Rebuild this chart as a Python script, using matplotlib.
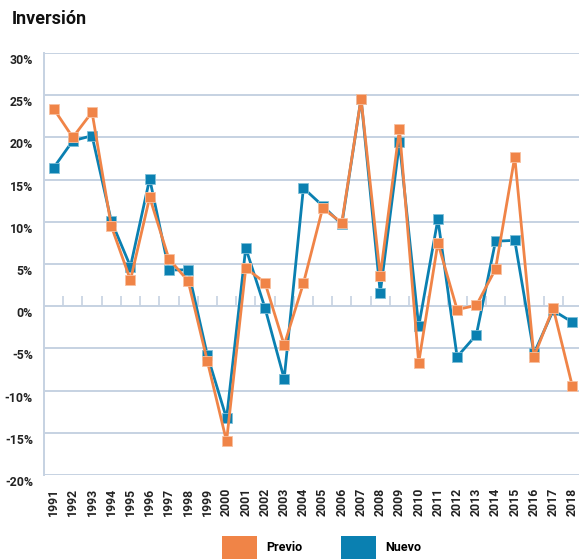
import matplotlib
matplotlib.use("Agg")
import matplotlib.pyplot as plt
from matplotlib.patches import Patch
from matplotlib.transforms import ScaledTranslation

plt.rcParams['font.family'] = ['Roboto', 'DejaVu Sans']

years = list(range(1991, 2019))
previo = [23.4, 20.0, 23.0, 9.5, 3.1, 12.9, 5.6, 3.0, -6.5, -16.0,
          4.5, 2.8, -4.6, 2.7, 11.6, 9.9, 24.6, 3.6, 21.0, -6.7,
          7.5, -0.4, 0.1, 4.4, 17.7, -6.0, -0.2, -9.5]
nuevo = [16.4, 19.6, 20.2, 10.1, 4.7, 15.1, 4.3, 4.3, -5.8, -13.3,
         6.9, -0.2, -8.6, 14.0, 11.9, 9.7, 24.6, 1.6, 19.4, -2.4,
         10.3, -6.0, -3.4, 7.7, 7.8, -5.6, -0.5, -1.9]
yticks = [-20, -15, -10, -5, 0, 5, 10, 15, 20, 25, 30]
series_names = ["Previo", "Nuevo"]

ORANGE = "#F08447"
BLUE = "#0A80B1"
GRID = "#C6D2E2"
W, H = 579, 560

fig = plt.figure(figsize=(W / 100, H / 100), dpi=100)
ax = fig.add_axes([44 / W, 1 - 475 / H, (582 - 44) / W, (475 - 53) / H])

ax.plot(years, nuevo, color=BLUE, lw=2.0, marker='s', ms=7.8,
        mfc=BLUE, mec="#7fbfd8", mew=0.6, zorder=3, clip_on=False)
ax.plot(years, previo, color=ORANGE, lw=2.0, marker='s', ms=7.8,
        mfc=ORANGE, mec="#f8c0a0", mew=0.6, zorder=4, clip_on=False)

ax.set_ylim(-20, 30)
ax.set_xlim(years[0] - 0.5, years[-1] + 0.5)
ax.set_yticks(yticks)
ax.set_yticklabels([f"{v}%" for v in yticks], fontweight='bold', fontsize=8.8,
                   color="#222222")
ax.set_xticks(years)
ax.set_xticklabels([str(y) for y in years], rotation=90, fontweight='bold',
                   fontsize=8.8, color="#222222")
ax.tick_params(axis='x', length=0, pad=9)
ax.tick_params(axis='y', length=0, pad=8)
off = ScaledTranslation(0, -0.06, fig.dpi_scale_trans)
for lab in ax.get_yticklabels():
    lab.set_transform(lab.get_transform() + off)

ax.grid(axis='y', color=GRID, lw=1.4)
ax.set_axisbelow(True)
for s in ['top', 'right', 'bottom']:
    ax.spines[s].set_visible(False)
ax.spines['left'].set_color(GRID)
ax.spines['left'].set_linewidth(1.4)

# small category-boundary ticks on the zero line
bounds = [y + 0.5 for y in years[:-1]]
ax.vlines(bounds, 0, 1.2, color=GRID, lw=1.2, zorder=1)

fig.text(12 / W, 1 - 24 / H, "Inversión", fontsize=13, fontweight='bold',
         color="#111111", va='baseline', ha='left')

handles = [Patch(facecolor=ORANGE, edgecolor='none'),
           Patch(facecolor=BLUE, edgecolor='none')]
fig.legend(handles, series_names, loc='upper left',
           bbox_to_anchor=(222 / W, 1 - 536 / H), ncol=2, frameon=False,
           borderpad=0, borderaxespad=0, handlelength=2.8, handleheight=2.4,
           handletextpad=0.75, columnspacing=3.1,
           prop={'weight': 'bold', 'size': 9})

fig.savefig("out.png", dpi=100)
